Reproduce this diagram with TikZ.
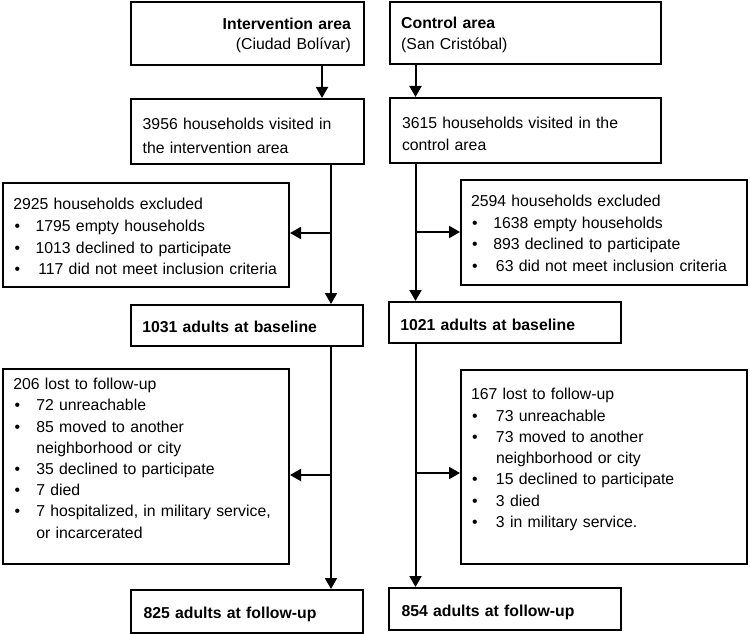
\documentclass[tikz,border=0pt]{standalone}
\usepackage{fontspec}
\setmainfont{Liberation Sans}
\usetikzlibrary{arrows.meta}
\newcommand{\myitem}[1][22.3pt]{\makebox[#1][l]{\hspace{1.2pt}•}}
\begin{document}
\begin{tikzpicture}[x=1pt,y=-1pt,
  box/.style={draw, line width=2pt, inner sep=0pt, outer sep=0pt, anchor=north west},
  txt/.style={inner sep=0pt, outer sep=0pt, anchor=base west, align=left, text width=300pt,
    font=\fontsize{15.8pt}{#1}\selectfont},
  txt/.default=21.7pt,
  arr/.style={line width=2pt, shorten >=1pt, -{Triangle[length=11pt,width=12pt]}}
]
\useasboundingbox (0,0) rectangle (750,634);
% boxes
\node[box, minimum width=233pt, minimum height=63pt] (b1) at (131,2) {};
\node[box, minimum width=271pt, minimum height=62pt] (c1) at (390,2) {};
\node[box, minimum width=233pt, minimum height=65pt] (b2) at (131,99) {};
\node[box, minimum width=271pt, minimum height=65pt] (c2) at (390,98) {};
\node[box, minimum width=286pt, minimum height=104pt] (be) at (3,183) {};
\node[box, minimum width=286pt, minimum height=105pt] (ce) at (461,180) {};
\node[box, minimum width=232pt, minimum height=41pt] (b3) at (131,305) {};
\node[box, minimum width=232pt, minimum height=41pt] (c3) at (389,302) {};
\node[box, minimum width=286pt, minimum height=195pt] (bl) at (3,369) {};
\node[box, minimum width=286pt, minimum height=194pt] (cl) at (461,370) {};
\node[box, minimum width=232pt, minimum height=43pt] (b4) at (131,590) {};
\node[box, minimum width=232pt, minimum height=42pt] (c4) at (389,588) {};
% texts
\node[txt=20.7pt, anchor=base east, align=right] (t1) at (351,29.3) {\textbf{Intervention area}\\(Ciudad Bolívar)};
\node[txt=20.7pt] (tc1) at (401.2,29) {\textbf{Control area}\\(San Cristóbal)};
\node[txt=24pt] (t2) at (142.7,129.3) {3956 households visited in\\the intervention area};
\node[txt=21.7pt] (tc2) at (402,128.3) {3615 households visited in the\\control area};
\node[txt=21.7pt] (te) at (13.3,209.7) {2925 households excluded\\\myitem 1795 empty households\\\myitem 1013 declined to participate\\\myitem[25pt]117 did not meet inclusion criteria};
\node[txt=21.5pt] (tce) at (471,206.7) {2594 households excluded\\\myitem 1638 empty households\\\myitem 893 declined to participate\\\myitem[25pt]63 did not meet inclusion criteria};
\node[txt] (t3) at (142.3,332.3) {\textbf{1031 adults at baseline}};
\node[txt] (tc3) at (400.3,330.7) {\textbf{1021 adults at baseline}};
\node[txt=21.2pt] (tl) at (13.3,389.7) {206 lost to follow-up\\\myitem[23pt]72 unreachable\\\myitem[23pt]85 moved to another\\\hspace*{23pt}neighborhood or city\\\myitem[23pt]35 declined to participate\\\myitem[23pt]7 died\\\myitem[23pt]7 hospitalized, in military service,\\\hspace*{23pt}or incarcerated};
\node[txt=21.3pt] (tcl) at (471,399.7) {167 lost to follow-up\\\myitem[25pt]73 unreachable\\\myitem[25pt]73 moved to another\\\hspace*{25pt}neighborhood or city\\\myitem[25pt]15 declined to participate\\\myitem[25pt]3 died\\\myitem[25pt]3 in military service.};
\node[txt] (t4) at (143.5,618.3) {\textbf{825 adults at follow-up}};
\node[txt] (tc4) at (401.5,616.7) {\textbf{854 adults at follow-up}};
% connector coordinates
\coordinate (xa) at (322,0);
\coordinate (xb) at (331,0);
\coordinate (xc) at (415.5,0);
\coordinate (ya) at (0,233);
\coordinate (yb) at (0,475);
\coordinate (yc) at (0,232);
\coordinate (yd) at (0,473);
% connectors
\draw[arr] (xa |- b1.south) -- (xa |- b2.north);
\draw[arr] (xb |- b2.south) -- (xb |- b3.north);
\draw[arr] (xb |- ya) -- (be.east |- ya);
\draw[arr] (xb |- b3.south) -- (xb |- b4.north);
\draw[arr] (xb |- yb) -- (bl.east |- yb);
\draw[arr] (xc |- c1.south) -- (xc |- c2.north);
\draw[arr] (xc |- c2.south) -- (xc |- c3.north);
\draw[arr] (xc |- yc) -- (ce.west |- yc);
\draw[arr] (xc |- c3.south) -- (xc |- c4.north);
\draw[arr] (xc |- yd) -- (cl.west |- yd);
\end{tikzpicture}
\end{document}
